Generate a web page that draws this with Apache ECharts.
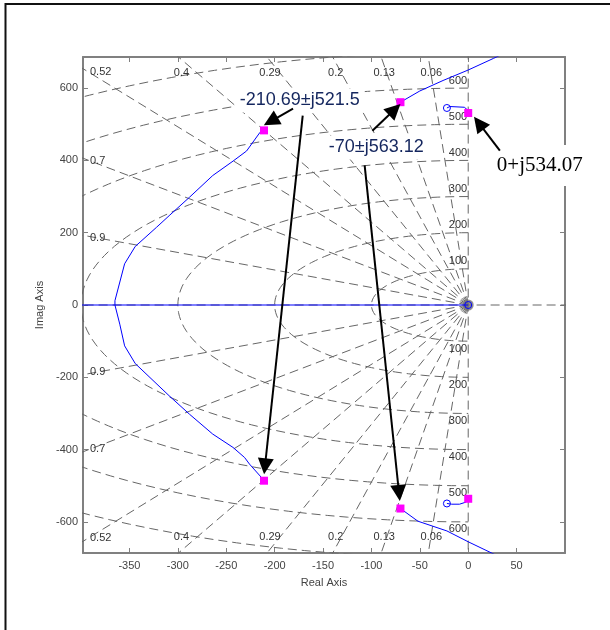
<!DOCTYPE html>
<html>
<head>
<meta charset="utf-8">
<script src="https://cdn.jsdelivr.net/npm/echarts@6/dist/echarts.min.js"></script>
<style>
  html, body { margin: 0; padding: 0; background: #fff; }
  #main { width: 610px; height: 630px; }
</style>
</head>
<body>
<div id="main"></div>
<script>
// axis limits and ticks
const xMin = -398, xMax = 100;
const yMin = -686, yMax = 686;
const xTicks = [-350, -300, -250, -200, -150, -100, -50, 0, 50];
const yTicks = [-600, -400, -200, 0, 200, 400, 600];

// s-plane grid: damping ratios and natural frequencies
const zetas = [0.06, 0.13, 0.2, 0.29, 0.4, 0.52, 0.7, 0.9];
const wns = [100, 200, 300, 400, 500, 600, 700];

// root locus branches, [real, imag]
const leftUpper = [[-211, 483], [-215, 478], [-229, 426], [-243, 398], [-264, 358], [-288, 298],
  [-309, 247], [-322, 215], [-344, 162], [-355, 114], [-365, 12], [-365, 0]];
const leftLower = [[-365, 0], [-360, -53], [-355, -113], [-344, -162], [-309, -251], [-288, -302],
  [-264, -357], [-243, -394], [-231, -422], [-226, -440], [-215, -473], [-211, -486]];
const rightUpper = [[-70, 561], [-50, 592], [-26, 621], [0, 650], [26, 682], [40, 700]];
const rightLower = [[-70, -563], [-52, -598], [-22, -625], [0, -655], [28, -691], [34, -700]];
const smallUpper = [[-22, 545], [-19, 549], [-4, 547], [0, 538], [0, 531]];
const smallLower = [[-22, -549], [-17, -551], [-9, -551], [-2, -545], [0, -536]];
const realAxisLocus = [[-420, 0], [0, 0]];

// closed-loop poles (squares) and zeros (circles)
const poles = [[-211, 483], [-211, -486], [-70, 561], [-70, -563], [0, 531], [0, -536]];
const zeros = [[0, 0], [-22, 545], [-22, -549]];

// annotations
const notes = [
  { text: '-210.69±j521.5', at: [-174, 566], serif: false },
  { text: '-70±j563.12', at: [-95, 436], serif: false },
  { text: '0+j534.07', at: [74, 386], serif: true }
];
const arrows = [
  [[-181, 543], [-204, 508]],
  [[-171, 524], [-210, -446]],
  [[-99, 482], [-76, 541]],
  [[-107, 386], [-71.5, -520]],
  [[32.7, 427], [11, 503]]
];

const font = 'Liberation Sans, Arial, Helvetica, sans-serif';
const gridGrey = '#666';
const axisGrey = '#808080';
const textGrey = '#444';
const navy = '#14265e';

function dashed(data) {
  return {
    type: 'line', data, symbol: 'none', silent: true, z: 1,
    lineStyle: { color: gridGrey, width: 1, type: [9, 5] }
  };
}

const series = [];
// damping-ratio rays
zetas.forEach(z => {
  const s = Math.sqrt(1 - z * z);
  series.push(dashed([[0, 0], [-z * 3000, s * 3000]]));
  series.push(dashed([[0, 0], [-z * 3000, -s * 3000]]));
});
series.push(dashed([[-3000, 0], [3000, 0]]));
series.push(dashed([[0, -3000], [0, 3000]]));
// natural frequency semicircles
wns.forEach(w => {
  const pts = [];
  for (let a = 90; a <= 270; a += 2) {
    const r = a * Math.PI / 180;
    pts.push([w * Math.cos(r), w * Math.sin(r)]);
  }
  series.push(dashed(pts));
});

// grid labels
const gridLabels = [];
zetas.forEach(z => {
  const s = Math.sqrt(1 - z * z);
  const reTop = -z * yMax / s;
  [1, -1].forEach(sg => {
    let item;
    if (reTop >= xMin) {
      item = { value: [reTop, sg * yMax], label: { align: 'center', verticalAlign: 'middle', offset: [3, sg * 16] } };
    } else {
      item = { value: [xMin, sg * (-xMin) * s / z], label: { align: 'left', verticalAlign: 'middle', offset: [7, sg * 3] } };
    }
    item.label.formatter = String(z);
    gridLabels.push(item);
  });
});
wns.filter(w => w < yMax).forEach(w => {
  gridLabels.push({ value: [0, w], label: { formatter: String(w), align: 'right', verticalAlign: 'bottom', offset: [-1, -2] } });
  gridLabels.push({ value: [0, -w], label: { formatter: String(w), align: 'right', verticalAlign: 'top', offset: [-1, 2] } });
});
series.push({
  type: 'scatter', data: gridLabels, symbolSize: 0, silent: true, clip: false, z: 2,
  itemStyle: { opacity: 1 },
  label: { show: true, position: 'inside', color: '#333', fontSize: 11, fontFamily: font }
});

// origin blob
series.push({
  type: 'scatter', data: [[0, 0]], symbolSize: 11, silent: true, z: 2,
  itemStyle: { color: '#777', opacity: 0.8 }
});

// locus branches
[realAxisLocus, leftUpper, leftLower, rightUpper, rightLower, smallUpper, smallLower].forEach(b => {
  series.push({
    type: 'line', data: b, symbol: 'none', silent: true, z: 3,
    lineStyle: { color: '#0000ff', width: 1 }
  });
});

series.push({
  type: 'scatter', data: zeros, symbol: 'circle', symbolSize: 7, silent: true, z: 4,
  itemStyle: { color: 'transparent', borderColor: '#0000ff', borderWidth: 1, opacity: 1 }
});
series.push({
  type: 'scatter', data: poles, symbol: 'rect', symbolSize: 8, silent: true, z: 4,
  itemStyle: { color: '#ff00ff', opacity: 1 }
});

// annotation boxes
series.push({
  type: 'scatter', symbolSize: 0, silent: true, clip: false, z: 6,
  itemStyle: { opacity: 1 },
  data: notes.map(n => ({
    value: n.at,
    label: n.serif
      ? { formatter: n.text, fontFamily: 'Liberation Serif, Times New Roman, serif', fontSize: 21, color: '#000', padding: [12, 18, 8, 18] }
      : { formatter: n.text, fontFamily: font, fontSize: 18, color: navy, padding: [3, 5] }
  })),
  label: { show: true, position: 'inside', backgroundColor: '#fff', opacity: 1 }
});

// arrows
series.push({
  type: 'lines', coordinateSystem: 'cartesian2d', silent: true, z: 7, clip: false,
  symbol: ['none', 'triangle'], symbolSize: 16,
  lineStyle: { color: '#000', width: 2, opacity: 1, curveness: 0 },
  data: arrows.map(a => ({ coords: a }))
});

const axisCommon = {
  type: 'value', splitLine: { show: false },
  axisLine: { show: true, onZero: false, lineStyle: { color: axisGrey, width: 2 } }
};

const chart = echarts.init(document.getElementById('main'));
chart.setOption({
  animation: false,
  backgroundColor: '#fff',
  graphic: [{
    type: 'polyline', silent: true,
    shape: { points: [[5.5, 630], [5.5, 4], [610, 4]] },
    style: { stroke: '#111', lineWidth: 2, fill: 'none' }
  }],
  grid: { left: 83, top: 57, right: 45, bottom: 77 },
  xAxis: [
    Object.assign({}, axisCommon, {
      min: xMin, max: xMax, position: 'bottom',
      name: 'Real Axis', nameLocation: 'middle', nameGap: 24,
      nameTextStyle: { color: textGrey, fontSize: 11, fontFamily: font },
      axisTick: { inside: true, length: 5, customValues: xTicks, lineStyle: { color: axisGrey } },
      axisLabel: { customValues: xTicks, color: textGrey, fontSize: 11, fontFamily: font, margin: 7 }
    }),
    Object.assign({}, axisCommon, {
      min: xMin, max: xMax, position: 'top',
      axisTick: { inside: true, length: 5, customValues: xTicks, lineStyle: { color: axisGrey } },
      axisLabel: { show: false, customValues: xTicks }
    })
  ],
  yAxis: [
    Object.assign({}, axisCommon, {
      min: yMin, max: yMax, position: 'left',
      name: 'Imag Axis', nameLocation: 'middle', nameGap: 31,
      nameTextStyle: { color: textGrey, fontSize: 11, fontFamily: font },
      axisTick: { inside: true, length: 5, customValues: yTicks, lineStyle: { color: axisGrey } },
      axisLabel: { customValues: yTicks, color: textGrey, fontSize: 11, fontFamily: font, margin: 5 }
    }),
    Object.assign({}, axisCommon, {
      min: yMin, max: yMax, position: 'right',
      axisTick: { inside: true, length: 5, customValues: yTicks, lineStyle: { color: axisGrey } },
      axisLabel: { show: false, customValues: yTicks }
    })
  ],
  series
});
</script>
</body>
</html>
